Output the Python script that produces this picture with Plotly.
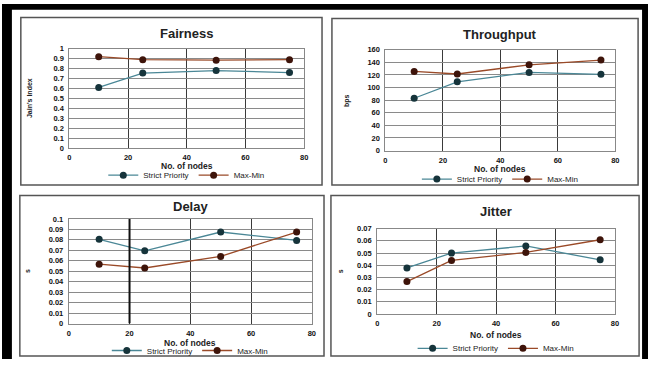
import plotly.graph_objects as go

nodes = [10, 25, 50, 75]
fair_sp = [0.61, 0.755, 0.78, 0.76]
fair_mm = [0.92, 0.89, 0.885, 0.89]
thr_sp = [83, 109, 124, 121]
thr_mm = [125.5, 121.5, 136, 143.5]
delay_sp = [0.0805, 0.0695, 0.0875, 0.0795]
delay_mm = [0.0567, 0.0531, 0.0642, 0.0875]
jit_sp = [0.0378, 0.050, 0.0558, 0.0444]
jit_mm = [0.0266, 0.0439, 0.0505, 0.0609]

W, H = 652, 365
def px(x): return x / W
def py(y): return 1 - y / H

SP_LINE, SP_MK = "#4a8796", "#16343b"
MM_LINE, MM_MK = "#9a4a28", "#3e140a"

panels = [
    dict(title="Fairness", ylab="Jain's Index", sp=fair_sp, mm=fair_mm, ymax=1, dt=0.1,
         pa=(68, 305, 46, 148), box=(19, 323, 14, 186), ty=30, ly=176, ytx=28, xty=166.5),
    dict(title="Throughput", ylab="bps", sp=thr_sp, mm=thr_mm, ymax=160, dt=20,
         pa=(387, 619, 47, 150.7), box=(333, 642, 15, 186), ty=31, ly=180, ytx=348, xty=169.5),
    dict(title="Delay", ylab="s", sp=delay_sp, mm=delay_mm, ymax=0.1, dt=0.01,
         pa=(67.4, 312.7, 221, 328.5), box=(18, 325, 197, 362), ty=208, ly=356.5, ytx=25, xty=348.5),
    dict(title="Jitter", ylab="s", sp=jit_sp, mm=jit_mm, ymax=0.07, dt=0.01,
         pa=(378.7, 618.7, 231, 318.7), box=(332, 643, 197, 362), ty=213, ly=354, ytx=341, xty=340),
]

fig = go.Figure()
shapes = []
annotations = []
layout = dict(width=W, height=H, margin=dict(l=0, r=0, t=0, b=0),
              paper_bgcolor="white", plot_bgcolor="white", showlegend=True)

FONT = "Liberation Sans"
for i, p in enumerate(panels, start=1):
    xa = "x" if i == 1 else f"x{i}"
    ya = "y" if i == 1 else f"y{i}"
    lg = "legend" if i == 1 else f"legend{i}"
    x0, x1, yt, yb = p["pa"]
    fig.add_trace(go.Scatter(x=nodes, y=p["sp"], mode="lines+markers", name="Strict Priority",
                             line=dict(color=SP_LINE, width=1.3),
                             marker=dict(color=SP_MK, size=7), xaxis=xa, yaxis=ya, legend=lg))
    fig.add_trace(go.Scatter(x=nodes, y=p["mm"], mode="lines+markers", name="Max-Min",
                             line=dict(color=MM_LINE, width=1.3),
                             marker=dict(color=MM_MK, size=7), xaxis=xa, yaxis=ya, legend=lg))
    xkey = "xaxis" if i == 1 else f"xaxis{i}"
    ykey = "yaxis" if i == 1 else f"yaxis{i}"
    layout[xkey] = dict(domain=[px(x0), px(x1)], range=[0, 80], dtick=20, anchor=ya,
                        showgrid=True, gridcolor="#3a3a3a", gridwidth=1,
                        showline=True, linecolor="#888", mirror=True, zeroline=False,
                        ticks="outside", ticklen=2, tickcolor="rgba(0,0,0,0)",
                        tickfont=dict(family=FONT, size=7.5, color="#111", weight="bold"),
                        fixedrange=True)
    layout[ykey] = dict(domain=[py(yb), py(yt)], range=[0, p["ymax"]], dtick=p["dt"], anchor=xa,
                        showgrid=True, gridcolor="#8a8a8a", gridwidth=1,
                        showline=True, linecolor="#888", mirror=True, zeroline=False,
                        ticks="outside", ticklen=3, tickcolor="rgba(0,0,0,0)",
                        tickfont=dict(family=FONT, size=7.5, color="#111", weight="bold"),
                        fixedrange=True)
    layout[lg] = dict(orientation="h", x=px((x0 + x1) / 2), xanchor="center", y=py(p["ly"]),
                      yanchor="middle", font=dict(family=FONT, size=8, color="#222"),
                      bgcolor="rgba(0,0,0,0)", itemwidth=30, tracegroupgap=0)
    bx0, bx1, by0, by1 = p["box"]
    shapes.append(dict(type="rect", xref="paper", yref="paper", x0=px(bx0), x1=px(bx1),
                       y0=py(by1), y1=py(by0), line=dict(color="#555", width=1.5)))
    annotations.append(dict(text=p["title"], xref="paper", yref="paper", x=px((x0 + x1) / 2),
                            y=py(p["ty"]), showarrow=False, xanchor="center", yanchor="middle",
                            font=dict(family=FONT, size=13, color="#222", weight="bold")))
    annotations.append(dict(text=p["ylab"], xref="paper", yref="paper", x=px(p["ytx"]),
                            y=py((yt + yb) / 2), showarrow=False, textangle=-90,
                            xanchor="center", yanchor="middle",
                            font=dict(family=FONT, size=7, color="#222", weight="bold")))
    annotations.append(dict(text="No. of nodes", xref="paper", yref="paper", x=px((x0 + x1) / 2),
                            y=py(p["xty"]), showarrow=False, xanchor="center", yanchor="middle",
                            font=dict(family=FONT, size=8.5, color="#222", weight="bold")))

# outer black frame
shapes += [
    dict(type="rect", xref="paper", yref="paper", x0=0, x1=px(10), y0=0, y1=1,
         fillcolor="black", line=dict(width=0)),
    dict(type="rect", xref="paper", yref="paper", x0=0, x1=1, y0=py(6), y1=1,
         fillcolor="black", line=dict(width=0)),
    dict(type="rect", xref="paper", yref="paper", x0=px(646), x1=1, y0=0, y1=1,
         fillcolor="black", line=dict(width=0)),
]
# darker gridline at x=20 in Delay panel
shapes.append(dict(type="line", xref="x3", yref="y3", x0=20, x1=20, y0=0, y1=0.1,
                   line=dict(color="#111", width=2)))

layout["shapes"] = shapes
layout["annotations"] = annotations
fig.update_layout(**layout)
fig.write_html("out.html", config={"displayModeBar": False},
               post_script="document.body.style.margin='0';document.body.style.overflow='hidden';")
